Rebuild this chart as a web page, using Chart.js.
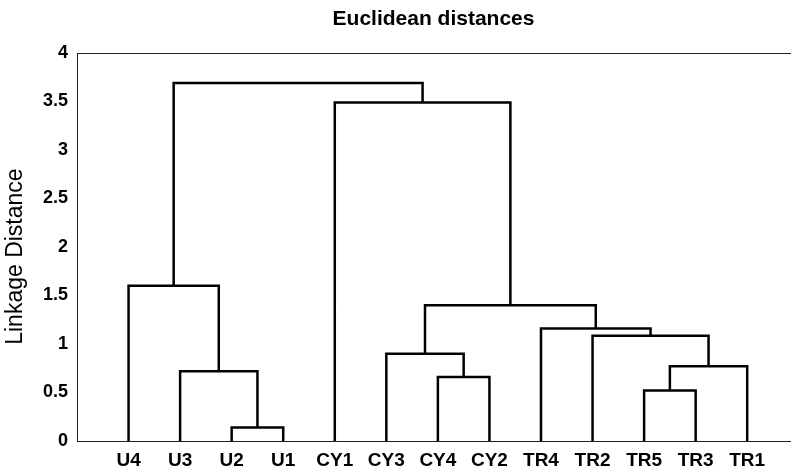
<!DOCTYPE html>
<html><head><meta charset="utf-8">
<script src="https://cdn.jsdelivr.net/npm/chart.js@4"></script>
<style>html,body{margin:0;padding:0;background:#fff}#wrap{width:791px;height:468px;position:relative}</style>
</head><body><div id="wrap"><canvas id="c"></canvas></div>
<script>
// Leaves in dendrogram order
const leaves = ['U4','U3','U2','U1','CY1','CY3','CY4','CY2','TR4','TR2','TR5','TR3','TR1'];
// Merges: node ids 0..12 are leaves; merge k creates node 13+k
const mergeLeft   = [2, 1, 0, 6, 5, 10, 18, 9, 8, 17, 4, 15];
const mergeRight  = [3, 13, 14, 7, 16, 11, 12, 19, 20, 21, 22, 23];
const mergeHeight = [0.14, 0.72, 1.60, 0.66, 0.90, 0.52, 0.77, 1.085, 1.16, 1.40, 3.49, 3.69];
const yTickValues = [0, 0.5, 1, 1.5, 2, 2.5, 3, 3.5, 4];
const titleText = 'Euclidean distances';
const yTitleText = 'Linkage Distance';

const FONT = "'Liberation Sans', Arial, Helvetica, sans-serif";

// node positions
const nodeX = leaves.map((_, i) => i + 1);
const nodeY = leaves.map(() => 0);
const datasets = [];
for (let k = 0; k < mergeHeight.length; k++) {
  const l = mergeLeft[k], r = mergeRight[k], h = mergeHeight[k];
  datasets.push({
    data: [
      {x: nodeX[l], y: nodeY[l]},
      {x: nodeX[l], y: h},
      {x: nodeX[r], y: h},
      {x: nodeX[r], y: nodeY[r]}
    ],
    borderColor: '#000',
    borderWidth: 2.5,
    pointRadius: 0,
    showLine: true,
    fill: false,
    tension: 0,
    borderJoinStyle: 'miter'
  });
  nodeX.push((nodeX[l] + nodeX[r]) / 2);
  nodeY.push(h);
}

const xMax = 13.83;

new Chart(document.getElementById('c'), {
  type: 'scatter',
  data: { datasets },
  options: {
    responsive: true,
    maintainAspectRatio: false,
    animation: false,
    devicePixelRatio: 1,
    layout: { padding: { left: 0, right: 1, top: 0, bottom: 0 } },
    plugins: { legend: { display: false }, tooltip: { enabled: false }, title: { display: false } },
    scales: {
      x: {
        type: 'linear', position: 'bottom', min: 0, max: xMax,
        afterBuildTicks: (s) => { s.ticks = leaves.map((_, i) => ({ value: i + 1 })); },
        afterFit: (s) => { s.height = 27; },
        grid: { display: false, drawTicks: false },
        border: { display: true, color: '#222', width: 1 },
        ticks: {
          autoSkip: false, maxRotation: 0, padding: 8, color: '#000',
          font: { family: FONT, size: 19, weight: 'bold' },
          callback: (v) => leaves[Math.round(v) - 1] ?? ''
        }
      },
      x2: {
        type: 'linear', position: 'top', min: 0, max: xMax,
        afterFit: (s) => { s.height = 53; },
        grid: { display: false, drawTicks: false },
        border: { display: true, color: '#222', width: 1 },
        ticks: { display: false },
        title: {
          display: true, text: titleText, color: '#000',
          font: { family: FONT, size: 21, weight: 'bold' },
          padding: { top: 7, bottom: 0 }
        }
      },
      y: {
        type: 'linear', min: 0, max: 4,
        afterBuildTicks: (s) => { s.ticks = yTickValues.map(v => ({ value: v })); },
        afterFit: (s) => { s.width = 77; },
        grid: { display: false, drawTicks: false },
        border: { display: true, color: '#222', width: 1 },
        ticks: {
          padding: 9, color: '#000',
          font: { family: FONT, size: 18, weight: 'bold' },
          callback: (v) => String(v)
        },
        title: {
          display: true, text: yTitleText + '   ', color: '#000',
          font: { family: FONT, size: 23, weight: 'normal' },
          padding: { top: 2, bottom: 0 }
        }
      }
    }
  }
});
</script>
</body></html>
